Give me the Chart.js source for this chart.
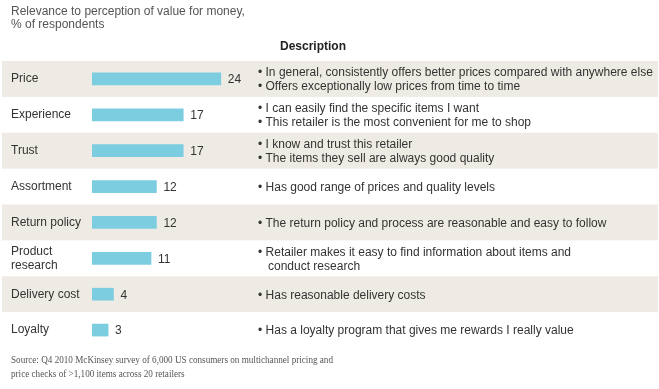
<!DOCTYPE html>
<html>
<head>
<meta charset="utf-8">
<script src="https://cdn.jsdelivr.net/npm/chart.js@4/dist/chart.umd.min.js"></script>
<style>
  html, body { margin: 0; padding: 0; background: #fff; }
  #wrap { position: relative; width: 659px; height: 389px; }
</style>
</head>
<body>
<div id="wrap"><canvas id="c"></canvas></div>
<script>
var categories = ["Price", "Experience", "Trust", "Assortment", "Return policy", ["Product", "research"], "Delivery cost", "Loyalty"]
var values = [24, 17, 17, 12, 12, 11, 4, 3]
var descriptions = [
  ["\u2022 In general, consistently offers better prices compared with anywhere else", "\u2022 Offers exceptionally low prices from time to time"],
  ["\u2022 I can easily find the specific items I want", "\u2022 This retailer is the most convenient for me to shop"],
  ["\u2022 I know and trust this retailer", "\u2022 The items they sell are always good quality"],
  ["\u2022 Has good range of prices and quality levels"],
  ["\u2022 The return policy and process are reasonable and easy to follow"],
  ["\u2022 Retailer makes it easy to find information about items and", "   conduct research"],
  ["\u2022 Has reasonable delivery costs"],
  ["\u2022 Has a loyalty program that gives me rewards I really value"]
]
var titleLines = ["Relevance to perception of value for money,", "% of respondents"]
var sourceLines = ["Source: Q4 2010 McKinsey survey of 6,000 US consumers on multichannel pricing and", "price checks of >1,100 items across 20 retailers"]

var SANS = "'Liberation Sans', Arial, sans-serif"
var SERIF = "'Liberation Serif', 'Times New Roman', serif"

// striped rows behind the bars
var bands = {
  id: 'bands',
  beforeDraw: function(chart) {
    var ctx = chart.ctx, y = chart.scales.y, area = chart.chartArea
    var step = (area.bottom - area.top) / categories.length
    ctx.save()
    ctx.fillStyle = '#edebe3'
    for (var i = 0; i < categories.length; i += 2) {
      var cy = y.getPixelForValue(i)
      ctx.fillRect(2, cy - step / 2, chart.width - 3, step)
    }
    ctx.restore()
  }
}

// value labels, descriptions, title and source
var texts = {
  id: 'texts',
  afterDraw: function(chart) {
    var ctx = chart.ctx, y = chart.scales.y
    var meta = chart.getDatasetMeta(0)
    ctx.save()
    ctx.textBaseline = 'middle'
    ctx.textAlign = 'left'
    ctx.font = '12px ' + SANS
    ctx.fillStyle = '#333'
    meta.data.forEach(function(bar, i) {
      ctx.fillText(String(values[i]), bar.x + 7, bar.y + 1)
    })
    descriptions.forEach(function(lines, i) {
      var cy = y.getPixelForValue(i)
      var off = (lines.length - 1) * 7
      lines.forEach(function(t, j) {
        ctx.fillText(t, 258, cy - off + j * 14 + 1)
      })
    })
    ctx.font = 'bold 12px ' + SANS
    ctx.fillStyle = '#222'
    ctx.fillText("Description", 280, 47)
    ctx.font = '12px ' + SANS
    ctx.fillStyle = '#555'
    titleLines.forEach(function(t, j) { ctx.fillText(t, 11, 12 + j * 13) })
    // source note is set narrow in the original
    ctx.font = '10.5px ' + SERIF
    ctx.fillStyle = '#555'
    var sx = 322 / ctx.measureText(sourceLines[0]).width
    ctx.translate(11, 0)
    ctx.scale(sx, 1)
    sourceLines.forEach(function(t, j) { ctx.fillText(t, 0, 360 + j * 14) })
    ctx.restore()
  }
}

new Chart(document.getElementById('c'), {
  type: 'bar',
  data: {
    labels: categories,
    datasets: [{
      data: values,
      backgroundColor: '#7ccde0',
      barThickness: 12,
      borderWidth: 0
    }]
  },
  options: {
    indexAxis: 'y',
    responsive: true,
    maintainAspectRatio: false,
    animation: false,
    layout: { padding: { left: 11, right: 406, top: 61, bottom: 41 } },
    plugins: { legend: { display: false }, tooltip: { enabled: false } },
    scales: {
      x: {
        display: false,
        min: 0,
        max: 30
      },
      y: {
        grid: { display: false },
        border: { display: false },
        afterFit: function(scale) { scale.width = 81 },
        ticks: {
          crossAlign: 'far',
          color: '#333',
          font: { family: SANS, size: 12, lineHeight: 1.15 }
        }
      }
    }
  },
  plugins: [bands, texts]
})
</script>
</body>
</html>
